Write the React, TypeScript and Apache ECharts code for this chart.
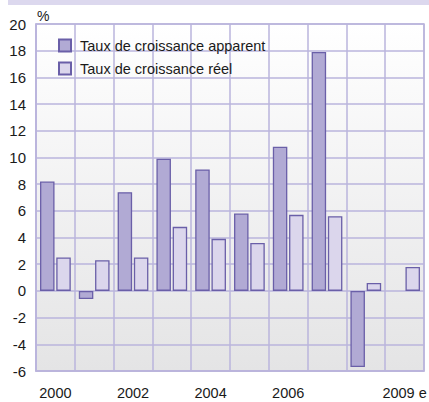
import React, { useEffect, useRef } from "react";
import * as echarts from "echarts";

const categories = ["2000", "2001", "2002", "2003", "2004", "2005", "2006", "2007", "2008", "2009 e"];
const shownLabels = ["2000", "2002", "2004", "2006", "2009 e"];
const apparent = [8.2, -0.6, 7.4, 9.9, 9.1, 5.8, 10.8, 17.9, -5.7, null];
const real = [2.5, 2.3, 2.5, 4.8, 3.9, 3.6, 5.7, 5.6, 0.6, 1.8];
const seriesNames = ["Taux de croissance apparent", "Taux de croissance réel"];
const yMin = -6;
const yMax = 20;
const yStep = 2;

const FONT = "'Liberation Sans', Arial, sans-serif";
const GRIDC = "#bab4dc";
const BORDER = "#6a5fa8";

export default function App() {
  const ref = useRef<HTMLDivElement>(null);
  useEffect(() => {
    if (!ref.current) return;
    const chart = echarts.init(ref.current, undefined, { renderer: "svg" });
    chart.setOption({
      animation: false,
      backgroundColor: "#ffffff",
      textStyle: { fontFamily: FONT },
      grid: {
        left: 36,
        right: 5,
        top: 24,
        bottom: 31,
        containLabel: false,
        outerBoundsMode: "none",
        show: true,
        borderColor: GRIDC,
        borderWidth: 1.5,
        backgroundColor: new echarts.graphic.LinearGradient(0, 0, 0, 1, [
          { offset: 0, color: "#ffffff" },
          { offset: 1, color: "#e4e4e5" },
        ]),
      },
      graphic: [
        {
          type: "rect",
          shape: { x: 8, y: 0, width: 421, height: 5 },
          style: { fill: "#dcd8ee" },
        },
        {
          type: "text",
          left: 37,
          top: 9,
          style: { text: "%", fontFamily: FONT, fontSize: 14, fill: "#1a1a1a" },
        },
      ],
      legend: {
        orient: "vertical",
        left: 53,
        top: 33,
        itemGap: 8,
        itemWidth: 12,
        itemHeight: 12,
        icon: "rect",
        textStyle: { fontFamily: FONT, fontSize: 14.5, color: "#1a1a1a", padding: [0, 0, 0, 4] },
        data: seriesNames,
      },
      xAxis: {
        type: "category",
        data: categories,
        axisLine: { show: true, onZero: false, lineStyle: { color: GRIDC, width: 1.5 } },
        axisTick: { show: false, interval: 0 },
        splitLine: { show: true, interval: 0, lineStyle: { color: GRIDC, width: 1.5 } },
        axisLabel: {
          interval: 0,
          margin: 14,
          fontFamily: FONT,
          fontSize: 14.5,
          color: "#1a1a1a",
          formatter: (v: string) => (shownLabels.includes(v) ? v : ""),
        },
      },
      yAxis: {
        type: "value",
        min: yMin,
        max: yMax,
        interval: yStep,
        axisLine: { show: true, lineStyle: { color: GRIDC, width: 1.5 } },
        axisTick: { show: false },
        splitLine: { show: true, lineStyle: { color: GRIDC, width: 1.5 } },
        axisLabel: {
          margin: 10,
          fontFamily: FONT,
          fontSize: 15,
          color: "#1a1a1a",
          padding: [0, 0, 7, 0],
        },
      },
      series: [
        {
          name: seriesNames[0],
          type: "bar",
          data: apparent,
          barWidth: 14.5,
          barGap: "12%",
          itemStyle: { color: "#b1aad4", borderColor: BORDER, borderWidth: 1.3 },
        },
        {
          name: seriesNames[1],
          type: "bar",
          data: real,
          barWidth: 14.5,
          barGap: "12%",
          itemStyle: { color: "#dbd6ec", borderColor: BORDER, borderWidth: 1.3 },
        },
      ],
    });
    return () => chart.dispose();
  }, []);
  return (
    <div
      ref={ref}
      style={{ position: "absolute", left: 0, top: 0, width: 429, height: 402 }}
    />
  );
}
